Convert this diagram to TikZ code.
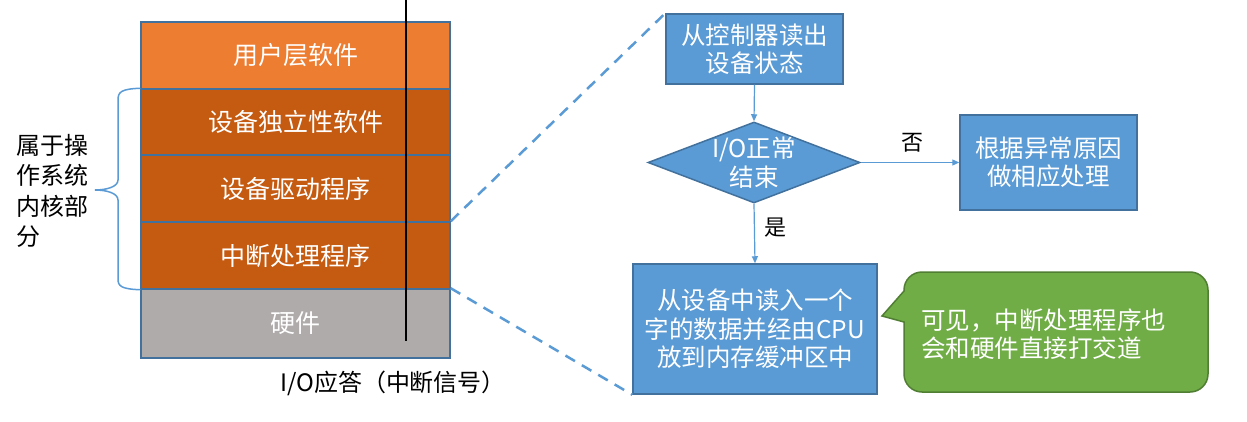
\documentclass[tikz,border=0pt]{standalone}
\usepackage{fontspec}
\newfontfamily\cjk{Noto Sans CJK SC}
\usetikzlibrary{shapes.geometric,arrows.meta}
\definecolor{uorange}{HTML}{ED7D31}
\definecolor{korange}{HTML}{C55A11}
\definecolor{hwgray}{HTML}{AFABAB}
\definecolor{bborder}{HTML}{41719C}
\definecolor{bfill}{HTML}{5B9BD5}
\definecolor{gfill}{HTML}{70AD47}
\definecolor{gborder}{HTML}{507E32}
\tikzset{
  layer/.style={draw=bborder, line width=1.5pt, minimum width=309pt, inner sep=0pt,
    text=white, font=\cjk\fontsize{25}{30}\selectfont},
  fbox/.style={draw=bborder, fill=bfill, line width=1.5pt, inner sep=0pt,
    text=white, align=center, font=\cjk\fontsize{24.5}{28.5}\selectfont},
  farrow/.style={draw=bfill, line width=1.2pt, -{Triangle[width=6pt,length=7pt]}},
  dashline/.style={draw=bfill, line width=2.5pt, dash pattern=on 11pt off 8pt},
  lbl/.style={font=\cjk\fontsize{22}{26}\selectfont, text=black, inner sep=0pt},
}
\begin{document}
\begin{tikzpicture}[x=1pt,y=-1pt]
\useasboundingbox[fill=white] (0,0) rectangle (1247,422);
% layer stack
\node[layer, fill=uorange, minimum height=67pt] (l1) at (295.5,55.5) {用户层软件};
\node[layer, fill=korange, minimum height=66pt] (l2) at (295.5,122) {设备独立性软件};
\node[layer, fill=korange, minimum height=67pt] (l3) at (295.5,188.5) {设备驱动程序};
\node[layer, fill=korange, minimum height=67pt] (l4) at (295.5,255.5) {中断处理程序};
\node[layer, fill=hwgray, minimum height=69pt] (l5) at (295.5,323.5) {硬件};
% vertical black line
\coordinate (vtop) at (406,0);
\coordinate (vbot) at (406,341);
\draw[black, line width=1.5pt] (vtop) -- (vbot);
% brace
\draw[bfill, line width=1.5pt] (l2.north west) .. controls (121,89) and (118,92) .. (118,100)
  -- (118,180) .. controls (118,187) and (106,190) .. (95,190)
  .. controls (106,190) and (118,193) .. (118,200)
  -- (118,279) .. controls (118,286) and (121,289) .. (l4.south west);
\node[lbl, font=\cjk\fontsize{24}{30.5}\selectfont, align=left, anchor=west] (kern) at (16,191)
  {属于操\\作系统\\内核部\\分};
\node[lbl, font=\cjk\fontsize{24}{28}\selectfont] (io) at (393,383) {I/O应答（中断信号）};
% flowchart
\node[fbox, minimum width=177pt, minimum height=70pt] (b1) at (754.5,49) {从控制器读出\\设备状态};
\node[draw=bborder, fill=bfill, line width=1.5pt, shape=diamond, inner sep=0pt,
  minimum width=212pt, minimum height=81pt] (d) at (754,162.5) {};
\node[text=white, align=center, inner sep=0pt, font=\cjk\fontsize{24.5}{29}\selectfont] (dt) at (d.center) {I/O正常\\结束};
\node[fbox, minimum width=177pt, minimum height=95pt] (b2) at (1048.5,162.5) {根据异常原因\\做相应处理};
\node[fbox, minimum width=244pt, minimum height=130pt] (b3) at (755,329) {从设备中读入一个\\字的数据并经由CPU\\放到内存缓冲区中};
\draw[farrow] (b1.south) -- (d.north);
\draw[farrow] (d.east) -- (b2.west);
\draw[farrow] (d.south) -- (b3.north);
\node[lbl] (no) at (912,143) {否};
\node[lbl] (yes) at (775,228) {是};
% dashed zoom lines
\draw[dashline] (l4.north east) -- (b1.north west);
\draw[dashline] (l5.north east) -- (b3.south west);
% callout
\draw[fill=gfill, draw=gborder, line width=1.5pt]
  (904,322) -- (904,374) arc[start angle=180,end angle=90,radius=18]
  -- (1190,392) arc[start angle=90,end angle=0,radius=18]
  -- (1208,290) arc[start angle=0,end angle=-90,radius=18]
  -- (922,272) arc[start angle=-90,end angle=-180,radius=18]
  -- (904,291) -- (882,316) -- cycle;
\node[text=white, align=left, anchor=west, inner sep=0pt, font=\cjk\fontsize{24.5}{28.5}\selectfont] (ct) at (921,334)
  {可见，中断处理程序也\\会和硬件直接打交道};
\end{tikzpicture}
\end{document}
